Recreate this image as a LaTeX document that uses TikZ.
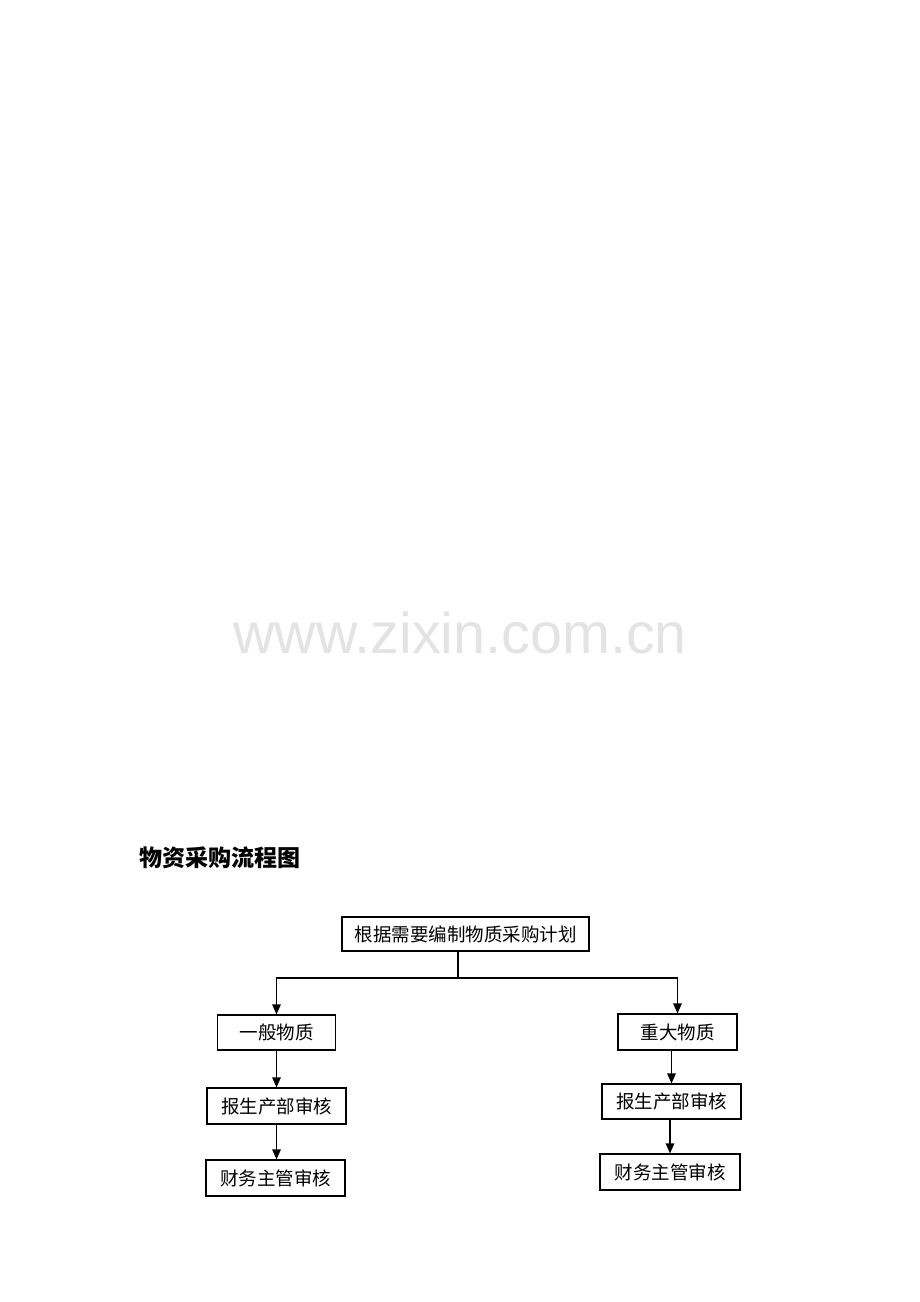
\documentclass[tikz,border=0pt]{standalone}
\usepackage{fontspec}
\newfontfamily\cjk{Noto Sans CJK SC}
\newfontfamily\wmfont{Liberation Sans}
\usetikzlibrary{arrows.meta}
\tikzset{
  stepbox/.style  = {shape=rectangle, draw, line width=1.1pt,
                     align=center, inner sep=0pt,
                     font=\cjk\fontsize{18.5}{21}\selectfont},
  titlenode/.style = {anchor=west, inner sep=0pt,
                      font=\cjk\bfseries\fontsize{23}{27}\selectfont},
  link/.style     = {draw, line width=1.3pt},
  flow/.style     = {link, -{Triangle[length=10pt,width=8.5pt]}}
}

\begin{document}
\begin{tikzpicture}
  [
    x = 1pt,
    y = -1pt
  ]
  \useasboundingbox (0,0) rectangle (920,1302);
  % watermark
  \node (mark) [text=black!11, inner sep=0pt,
                font=\wmfont\fontsize{57.5}{62}\selectfont]
    at (460,633) {www.zixin.com.cn};

  \node (title) [titlenode] at (139,858) {物资采购流程图};

  \node (plan) [stepbox, minimum width=247pt, minimum height=34pt]
    at (465.5,934) {根据需要编制物质采购计划};

  % left branch
  \node (general) [stepbox, minimum width=118pt, minimum height=35pt]
    at (276.5,1032.5) {一般物质};
  \node (genreview) [stepbox, minimum width=139pt, minimum height=36pt]
    at (276.5,1106) {报生产部审核};
  \node (genfinance) [stepbox, minimum width=139pt, minimum height=36pt]
    at (275.5,1178) {财务主管审核};

  % right branch
  \node (major) [stepbox, minimum width=119pt, minimum height=36pt]
    at (677.5,1032) {重大物质};
  \node (majreview) [stepbox, minimum width=139pt, minimum height=35pt]
    at (671.5,1101.5) {报生产部审核};
  \node (majfinance) [stepbox, minimum width=140pt, minimum height=36pt]
    at (670,1172) {财务主管审核};

  \coordinate (bus) at (458,978);
  \draw [link] (plan.south -| bus) -- (bus);
  \draw [flow] (bus) -| (general.north);
  \draw [flow] (bus) -| (major.north);

  \draw [flow] (general) -- (genreview);
  \draw [flow] (genreview.south) -- (genreview.south |- genfinance.north);
  \draw [flow] (majreview.north |- major.south) -- (majreview.north);
  \draw [flow] (majreview.south -| majfinance.north) -- (majfinance.north);
\end{tikzpicture}
\end{document}
